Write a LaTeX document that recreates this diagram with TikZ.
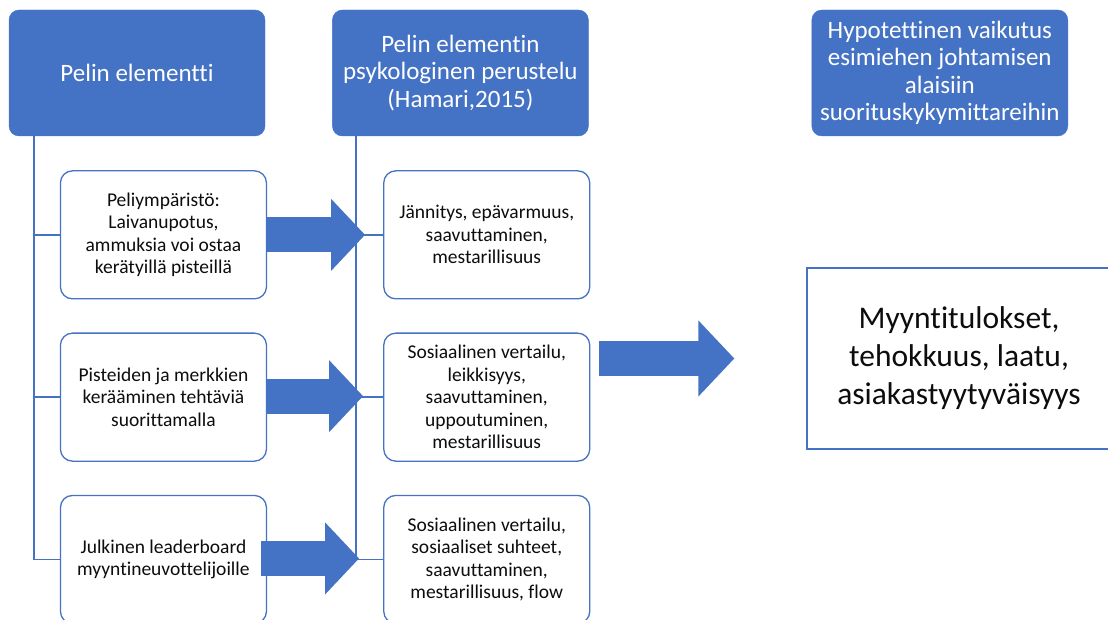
\documentclass[tikz,border=0pt]{standalone}
\usepackage{fontspec}
\setmainfont[Ligatures=NoCommon]{Carlito}
\usepackage{tikz}
\usetikzlibrary{positioning,arrows.meta}
\definecolor{HeadBlue}{HTML}{4472C4}
\definecolor{InkBlack}{HTML}{0D0D0D}

\begin{document}
\begin{tikzpicture}[x=1pt, y=1pt,
    head/.style={draw=HeadBlue, fill=HeadBlue, rounded corners=10pt, text=white,
      minimum width=256pt, minimum height=126pt, align=center, inner sep=0pt,
      font=\fontsize{25}{27.5}\selectfont},
    item/.style={draw=HeadBlue, line width=1.3pt, rounded corners=12pt, fill=white, text=InkBlack,
      minimum width=206pt, minimum height=128pt, align=center, inner sep=0pt,
      font=\fontsize{19.5}{22.5}\selectfont},
    result/.style={draw=HeadBlue, line width=1.3pt, fill=white, text=InkBlack,
      minimum width=304pt, minimum height=181pt, align=center,
      font=\fontsize{31.5}{38}\selectfont},
    link/.style={draw=HeadBlue, line width=1.5pt},
    fat/.style={draw=HeadBlue, line width=35pt, -{Triangle[length=34pt, width=70pt]}}
  ]
    \useasboundingbox (0,0) rectangle (1108,619);

    \node[head] (elem) at (137,546) {Pelin elementti};
    \node[head, right=67pt of elem] (psyk) {Pelin elementin\\psykologinen perustelu\\(Hamari,2015)};
    \node[head, right=223pt of psyk] (vaik) {Hypotettinen vaikutus\\esimiehen johtamisen\\alaisiin\\suorituskykymittareihin};

    \node[item, below right=34pt and 51pt of elem.south west] (ymp) {Peliympäristö:\\Laivanupotus,\\ammuksia voi ostaa\\kerätyillä pisteillä};
    \node[item, below=33pt of ymp] (pist) {Pisteiden ja merkkien\\kerääminen tehtäviä\\suorittamalla};
    \node[item, below=33pt of pist] (lead) {Julkinen leaderboard\\myyntineuvottelijoille};

    \node[item, right=116pt of ymp] (jann) {Jännitys, epävarmuus,\\saavuttaminen,\\mestarillisuus};
    \node[item, right=116pt of pist] (sosa) {Sosiaalinen vertailu,\\leikkisyys,\\saavuttaminen,\\uppoutuminen,\\mestarillisuus};
    \node[item, right=116pt of lead] (sosb) {Sosiaalinen vertailu,\\sosiaaliset suhteet,\\saavuttaminen,\\mestarillisuus, flow};

    \node[result] (myynti) at (959,260.5) {Myyntitulokset,\\tehokkuus, laatu,\\asiakastyytyväisyys};

    \coordinate (ltrunk) at ([xshift=25pt]elem.south west);
    \coordinate (mtrunk) at ([xshift=24pt]psyk.south west);
    \draw[link] (ltrunk) |- (lead.west);
    \draw[link] (ymp.west -| ltrunk) -- (ymp.west);
    \draw[link] (pist.west -| ltrunk) -- (pist.west);
    \draw[link] (mtrunk) |- (sosb.west);
    \draw[link] (jann.west -| mtrunk) -- (jann.west);
    \draw[link] (sosa.west -| mtrunk) -- (sosa.west);

    \draw[fat] (ymp.east) -- ([xshift=-18pt]jann.west);
    \draw[fat] ([yshift=1pt]pist.east) -- ([xshift=-20pt,yshift=1pt]sosa.west);
    \draw[fat] ([xshift=-6pt,yshift=1pt]lead.east) -- ([xshift=-24pt,yshift=1pt]sosb.west);

    \path (sosa.east |- myynti.west) ++(9pt,0) coordinate (isostart);
    \draw[fat, -{Triangle[length=36pt, width=74pt]}] (isostart) -- ([xshift=-72pt]myynti.west);
  \end{tikzpicture}
\end{document}
